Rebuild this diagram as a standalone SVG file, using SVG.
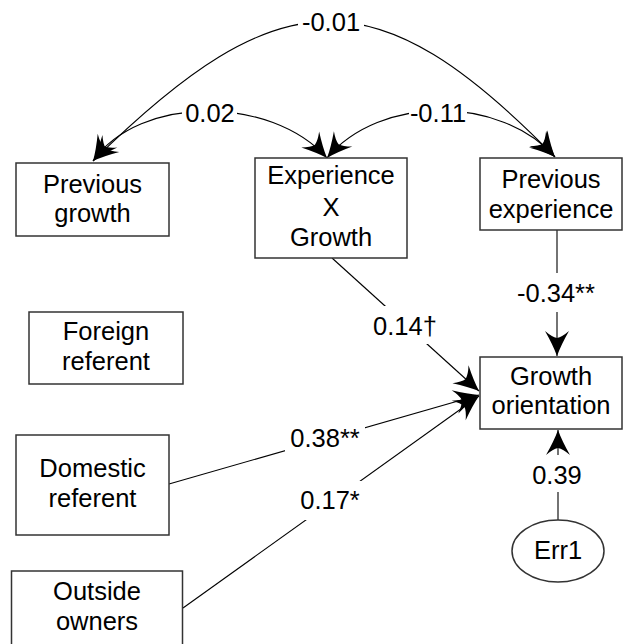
<svg xmlns="http://www.w3.org/2000/svg" width="624" height="644" viewBox="0 0 624 644">
  <style>
    .box { fill: #ffffff; stroke: #333333; stroke-width: 1.5; }
    .node { font-family: "Liberation Sans", Arial, sans-serif; font-size: 25.5px; fill: #000000; text-anchor: middle; }
    .lbl { font-family: "Liberation Sans", Arial, sans-serif; font-size: 25.5px; fill: #000000; text-anchor: middle; }
    .edge { fill: none; stroke: #000000; stroke-width: 1.1; }
    .bg { fill: #ffffff; }
  </style>
  <defs>
    <!-- concave swept arrowhead, tip at the origin -->
    <marker id="ah" viewBox="-28 -15 30 30" refX="0" refY="0" markerWidth="30" markerHeight="30" markerUnits="userSpaceOnUse" orient="auto-start-reverse">
      <path d="M0,0 Q-11,-4 -25,-12 Q-19,-5 -18,0 Q-19,5 -25,12 Q-11,4 0,0 Z" fill="#000000"/>
    </marker>
  </defs>
  <rect width="624" height="644" fill="#ffffff"/>

  <g id="connectors">
    <!-- covariances (double-headed) -->
    <path class="edge" d="M93,161 C280,-23 376,-26 555,157" marker-start="url(#ah)" marker-end="url(#ah)"/>
    <path class="edge" d="M93,161 C140,95 270,95 327,158" marker-start="url(#ah)" marker-end="url(#ah)"/>
    <path class="edge" d="M327,158 C380,95 500,95 555,157" marker-start="url(#ah)" marker-end="url(#ah)"/>
    <!-- regression paths -->
    <path class="edge" d="M332,258 L479,391" marker-end="url(#ah)"/>
    <path class="edge" d="M557,230 L557,356" marker-end="url(#ah)"/>
    <path class="edge" d="M169,484 L479,395" marker-end="url(#ah)"/>
    <path class="edge" d="M183,608 L479,396" marker-end="url(#ah)"/>
    <path class="edge" d="M558,520 L558,430" marker-end="url(#ah)"/>

    <!-- path coefficients -->
    <rect class="bg" x="298" y="8" width="66" height="28"/>
    <text class="lbl" x="331" y="31">-0.01</text>
    <rect class="bg" x="182" y="99" width="55" height="28"/>
    <text class="lbl" x="210" y="122">0.02</text>
    <rect class="bg" x="409" y="99" width="58" height="28"/>
    <text class="lbl" x="438" y="122">-0.11</text>
    <rect class="bg" x="372" y="306" width="66" height="38"/>
    <text class="lbl" x="405" y="335">0.14†</text>
    <rect class="bg" x="514" y="273" width="86" height="39"/>
    <text class="lbl" x="556" y="302">-0.34**</text>
    <rect class="bg" x="285" y="425" width="80" height="27"/>
    <text class="lbl" x="325" y="447">0.38**</text>
    <rect class="bg" x="298" y="481" width="64" height="39"/>
    <text class="lbl" x="330" y="509">0.17*</text>
    <rect class="bg" x="528" y="455" width="60" height="37"/>
    <text class="lbl" x="557" y="484">0.39</text>
  </g>

  <g id="previous-growth">
    <rect class="box" x="16" y="163" width="153" height="73"/>
    <text class="node" x="92.5" y="193">Previous</text>
    <text class="node" x="92.5" y="222">growth</text>
  </g>

  <g id="experience-x-growth">
    <rect class="box" x="255" y="158" width="152" height="100"/>
    <text class="node" x="331" y="184">Experience</text>
    <text class="node" x="331" y="216">X</text>
    <text class="node" x="331" y="246">Growth</text>
  </g>

  <g id="previous-experience">
    <rect class="box" x="480" y="158" width="142" height="72"/>
    <text class="node" x="551" y="188">Previous</text>
    <text class="node" x="551" y="218">experience</text>
  </g>

  <g id="foreign-referent">
    <rect class="box" x="29" y="312" width="154" height="72"/>
    <text class="node" x="106" y="340">Foreign</text>
    <text class="node" x="106" y="370">referent</text>
  </g>

  <g id="growth-orientation">
    <rect class="box" x="480" y="357" width="142" height="72"/>
    <text class="node" x="551" y="385">Growth</text>
    <text class="node" x="551" y="414">orientation</text>
  </g>

  <g id="domestic-referent">
    <rect class="box" x="16" y="435" width="153" height="100"/>
    <text class="node" x="92.5" y="477">Domestic</text>
    <text class="node" x="92.5" y="507">referent</text>
  </g>

  <g id="outside-owners">
    <rect class="box" x="11.5" y="571" width="171" height="100"/>
    <text class="node" x="97" y="600">Outside</text>
    <text class="node" x="97" y="630">owners</text>
  </g>

  <g id="err1">
    <ellipse class="box" cx="558" cy="551" rx="46" ry="31"/>
    <text class="node" x="558" y="559">Err1</text>
  </g>
</svg>
